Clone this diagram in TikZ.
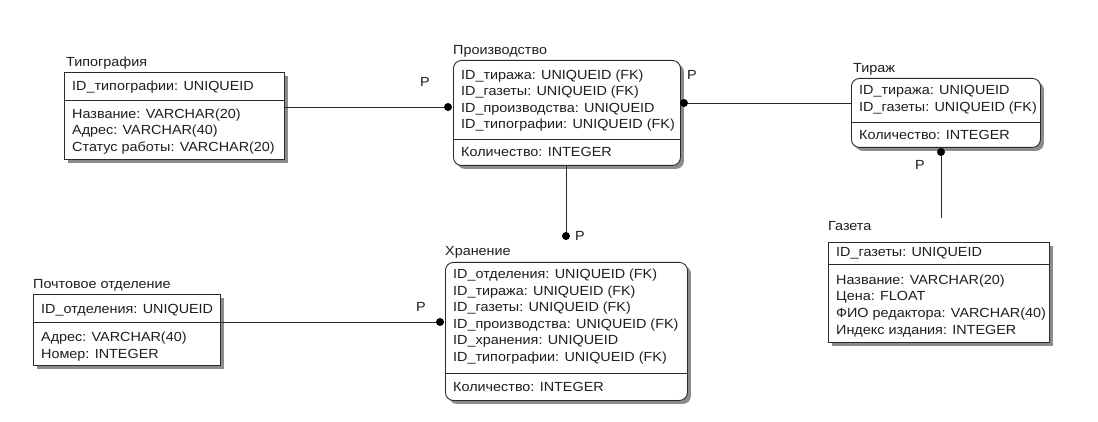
\documentclass[tikz,border=0pt]{standalone}
\usepackage{fontspec}
\usepackage{xcolor}
\usepackage{tikz}
\usetikzlibrary{calc,shadows}
\newfontfamily\erfont{Liberation Sans}[FakeStretch=1.09]
\definecolor{ink}{HTML}{1E1E1E}
\definecolor{edge}{HTML}{2A2A2A}
\definecolor{shade}{HTML}{8C8C8C}
\tikzset{
  entity/.style={draw=edge, fill=white, line width=0.9pt, inner sep=0pt,
    anchor=north west, drop shadow={shadow xshift=3.5pt, shadow yshift=-3.5pt, fill=shade, opacity=1}},
  dep/.style={entity, rounded corners=8pt},
  sep/.style={draw=edge, line width=0.9pt},
  rows/.style={text=ink, font=\erfont\fontsize{13.2}{16.5}\selectfont, align=left, inner sep=0pt, anchor=base west},
  rel/.style={draw=edge, line width=0.9pt},
  dot/.style={circle, fill=black, inner sep=0pt, minimum size=8pt},
  card/.style={text=ink, font=\erfont\fontsize{13.2}{16}\selectfont, inner sep=0pt}
}

\begin{document}
\begin{tikzpicture}[x=1pt,y=-1pt]
  \fill[white] (0,0) rectangle (1098,422);
  \useasboundingbox (0,0) rectangle (1098,422);

  % Типография
  \node[entity, minimum width=220pt, minimum height=87pt] (tipo) at (64,72) {};
  \draw[sep] (tipo.west |- 0,100) -- (tipo.east |- 0,100);
  \node[rows] (tipo-title) at (66,66.5) {Типография};
  \node[rows] (tipo-key) at (72,90.5) {ID\_типографии: UNIQUEID};
  \node[rows] (tipo-attr) at (72,151.5) {Название: VARCHAR(20)\\Адрес: VARCHAR(40)\\Статус работы: VARCHAR(20)};

  % Производство
  \node[dep, minimum width=227pt, minimum height=105pt] (proizv) at (453,60) {};
  \draw[sep] (proizv.west |- 0,139) -- (proizv.east |- 0,139);
  \node[rows] (proizv-title) at (453,54.5) {Производство};
  \node[rows] (proizv-key) at (461,129) {ID\_тиража: UNIQUEID (FK)\\ID\_газеты: UNIQUEID (FK)\\ID\_производства: UNIQUEID\\ID\_типографии: UNIQUEID (FK)};
  \node[rows] (proizv-attr) at (461,156.5) {Количество: INTEGER};

  % Тираж
  \node[dep, minimum width=189pt, minimum height=69pt] (tiraj) at (851,78) {};
  \draw[sep] (tiraj.west |- 0,122) -- (tiraj.east |- 0,122);
  \node[rows] (tiraj-title) at (853,72.5) {Тираж};
  \node[rows] (tiraj-key) at (859,111.5) {ID\_тиража: UNIQUEID\\ID\_газеты: UNIQUEID (FK)};
  \node[rows] (tiraj-attr) at (859,139.5) {Количество: INTEGER};

  % Газета
  \node[entity, minimum width=221pt, minimum height=100pt] (gazeta) at (828,242) {};
  \draw[sep] (gazeta.west |- 0,264) -- (gazeta.east |- 0,264);
  \node[rows] (gazeta-title) at (828,230.5) {Газета};
  \node[rows] (gazeta-key) at (836,256.5) {ID\_газеты: UNIQUEID};
  \node[rows] (gazeta-attr) at (836,334) {Название: VARCHAR(20)\\Цена: FLOAT\\ФИО редактора: VARCHAR(40)\\Индекс издания: INTEGER};

  % Почтовое отделение
  \node[entity, minimum width=187pt, minimum height=71pt] (pochta) at (33,294) {};
  \draw[sep] (pochta.west |- 0,322) -- (pochta.east |- 0,322);
  \node[rows] (pochta-title) at (33,288.5) {Почтовое отделение};
  \node[rows] (pochta-key) at (41,313.5) {ID\_отделения: UNIQUEID};
  \node[rows] (pochta-attr) at (41,358) {Адрес: VARCHAR(40)\\Номер: INTEGER};

  % Хранение
  \node[dep, minimum width=242pt, minimum height=138pt] (hran) at (445,262) {};
  \draw[sep] (hran.west |- 0,373) -- (hran.east |- 0,373);
  \node[rows] (hran-title) at (445,255.5) {Хранение};
  \node[rows] (hran-key) at (453,361) {ID\_отделения: UNIQUEID (FK)\\ID\_тиража: UNIQUEID (FK)\\ID\_газеты: UNIQUEID (FK)\\ID\_производства: UNIQUEID (FK)\\ID\_хранения: UNIQUEID\\ID\_типографии: UNIQUEID (FK)};
  \node[rows] (hran-attr) at (453,391.5) {Количество: INTEGER};

  % связи
  \coordinate (e1) at (448,107);
  \draw[rel] (tipo.east |- e1) -- (e1);
  \node[dot] (d1) at (e1) {};
  \node[card] (p1) at (425,82) {P};

  \coordinate (e2) at (684,103);
  \draw[rel] (e2) -- (tiraj.west |- e2);
  \node[dot] (d2) at (e2) {};
  \node[card] (p2) at (692,75) {P};

  \coordinate (e3) at (941,152);
  \coordinate (e3end) at (941,218);
  \draw[rel] (e3) -- (e3end);
  \node[dot] (d3) at (e3) {};
  \node[card] (p3) at (920,165) {P};

  \coordinate (e4) at (566,236);
  \draw[rel] (proizv.south -| e4) -- (e4);
  \node[dot] (d4) at (e4) {};
  \node[card] (p4) at (580,236) {P};

  \coordinate (e5) at (440,322);
  \draw[rel] (pochta.east |- e5) -- (e5);
  \node[dot] (d5) at (e5) {};
  \node[card] (p5) at (421,307) {P};
\end{tikzpicture}
\end{document}
